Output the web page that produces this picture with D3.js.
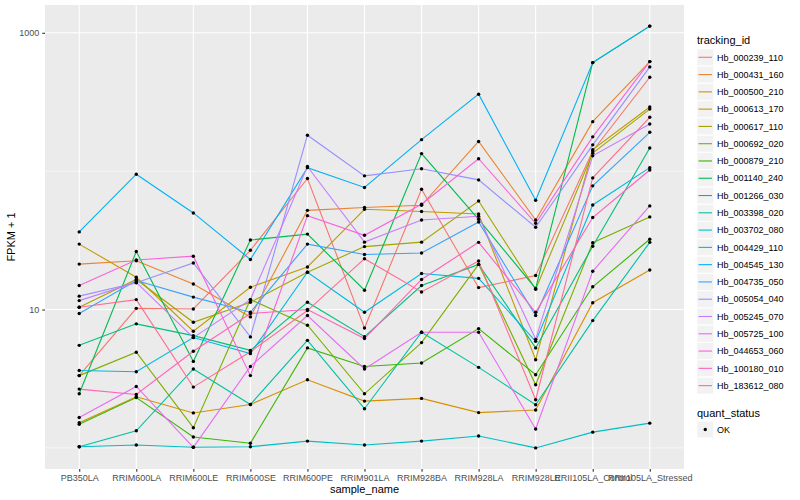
<!DOCTYPE html>
<html>
<head>
<meta charset="utf-8">
<script src="https://cdn.jsdelivr.net/npm/d3@7/dist/d3.min.js"></script>
<style>
  body { margin: 0; background: #fff; }
  text { font-family: "Liberation Sans", Arial, sans-serif; }
</style>
</head>
<body>
<svg id="chart" width="800" height="500"></svg>
<script>
/* global d3 */

var sampleNames = ['PB350LA', 'RRIM600LA', 'RRIM600LE', 'RRIM600SE', 'RRIM600PE', 'RRIM901LA',
    'RRIM928BA', 'RRIM928LA', 'RRIM928LE', 'RRII105LA_Control', 'RRII105LA_Stressed'];

var trackingIds = ['Hb_000239_110', 'Hb_000431_160', 'Hb_000500_210', 'Hb_000613_170', 'Hb_000617_110',
    'Hb_000692_020', 'Hb_000879_210', 'Hb_001140_240', 'Hb_001266_030', 'Hb_003398_020',
    'Hb_003702_080', 'Hb_004429_110', 'Hb_004545_130', 'Hb_004735_050', 'Hb_005054_040',
    'Hb_005245_070', 'Hb_005725_100', 'Hb_044653_060', 'Hb_100180_010', 'Hb_183612_080'];

// FPKM + 1, one array per tracking_id, in sampleNames order
var hb_000239_110 = [3.33, 10.2, 10.1, 26.8, 88.5, 7.36, 74.1, 14.4, 17.6, 140, 477];
var hb_000431_160 = [21.3, 22.5, 15.3, 8.85, 52.1, 54.6, 56.7, 164, 44.4, 228, 619];
var hb_000500_210 = [1.52, 2.34, 1.79, 2.06, 3.11, 2.18, 2.28, 1.80, 1.88, 11.2, 19.3];
var hb_000613_170 = [29.7, 17.1, 6.97, 14.5, 20.3, 53.0, 51.1, 49.0, 4.34, 143, 291];
var hb_000617_110 = [10.4, 16.5, 8.09, 11.3, 18.6, 28.5, 30.7, 60.9, 14.0, 135, 281];
var hb_000692_020 = [3.33, 4.91, 1.40, 11.8, 7.70, 2.46, 5.77, 21.2, 2.86, 30.4, 46.7];
var hb_000879_210 = [1.48, 2.31, 1.20, 1.08, 5.28, 3.88, 4.11, 7.28, 3.38, 14.6, 32.2];
var hb_001140_240 = [2.46, 26.3, 4.22, 31.8, 35.1, 13.8, 134, 44.9, 14.2, 609, 1118];
var hb_001266_030 = [5.51, 7.88, 6.48, 5.07, 11.3, 6.37, 14.9, 21.2, 5.28, 28.7, 147];
var hb_003398_020 = [1.02, 1.33, 3.72, 2.06, 5.99, 1.92, 6.85, 3.82, 2.05, 8.32, 30.6];
var hb_003702_080 = [1.02, 1.05, 1.01, 1.02, 1.12, 1.05, 1.12, 1.22, 1.00, 1.30, 1.51];
var hb_004429_110 = [3.63, 3.55, 6.27, 4.80, 18.6, 9.56, 18.2, 16.8, 5.89, 57.0, 106];
var hb_004545_130 = [36.4, 95.1, 49.9, 23.0, 106, 76.2, 169, 360, 61.6, 609, 1118];
var hb_004735_050 = [9.36, 16.2, 12.3, 9.56, 29.7, 25.0, 25.6, 42.9, 9.05, 78.3, 191];
var hb_005054_040 = [12.5, 15.6, 21.7, 6.34, 182, 92.5, 104, 86.5, 39.3, 155, 567];
var hb_005245_070 = [11.6, 15.7, 6.27, 11.8, 108, 30.7, 44.4, 47.2, 6.09, 129, 219];
var hb_005725_100 = [1.66, 2.78, 1.01, 3.88, 9.05, 3.72, 6.85, 6.85, 1.37, 18.9, 56.1];
var hb_044653_060 = [14.9, 22.8, 24.3, 3.33, 47.7, 34.4, 57.7, 123, 42.0, 177, 619];
var hb_100180_010 = [2.66, 2.43, 4.99, 9.36, 10.0, 6.17, 16.5, 30.6, 9.56, 46.2, 102];
var hb_183612_080 = [10.4, 11.8, 2.75, 4.96, 9.83, 23.3, 13.4, 22.4, 2.23, 89.4, 245];

var seriesValues = [hb_000239_110, hb_000431_160, hb_000500_210, hb_000613_170, hb_000617_110,
    hb_000692_020, hb_000879_210, hb_001140_240, hb_001266_030, hb_003398_020,
    hb_003702_080, hb_004429_110, hb_004545_130, hb_004735_050, hb_005054_040,
    hb_005245_070, hb_005725_100, hb_044653_060, hb_100180_010, hb_183612_080];

var yMajorTicks = [10, 1000];
var yMinorTicks = [1, 100];
var quantStatus = ['OK'];

// ggplot hue palette, 20 levels
var palette = ['#F8766D', '#EA8331', '#D89000', '#C09B00', '#A3A500', '#7CAE00', '#39B600', '#00BB4E',
    '#00BF7D', '#00C1A3', '#00BFC4', '#00BAE0', '#00B0F6', '#35A2FF', '#9590FF', '#C77CFF',
    '#E76BF3', '#FA62DB', '#FF62BC', '#FF6C91'];

var panel = {left: 45, top: 5, right: 684, bottom: 469};
var svg = d3.select('#chart');

var series = trackingIds.map(function (id, i) {
    return {id: id, color: palette[i], values: seriesValues[i].map(function (v, j) {
        return {sample: sampleNames[j], value: v};
    })};
});

var x = d3.scalePoint()
        .domain(sampleNames)
        .range([panel.left, panel.right])
        .padding(0.6);

// log scale with ggplot's 5% expansion (in log space)
var allVals = d3.merge(seriesValues);
var lo = Math.log10(d3.min(allVals)), hi = Math.log10(d3.max(allVals));
var pad = (hi - lo) * 0.05;
var y = d3.scaleLog()
        .domain([Math.pow(10, lo - pad), Math.pow(10, hi + pad)])
        .range([panel.bottom, panel.top]);

// panel
svg.append('rect')
        .attr('x', panel.left).attr('y', panel.top)
        .attr('width', panel.right - panel.left)
        .attr('height', panel.bottom - panel.top)
        .attr('fill', '#EBEBEB');

var grid = svg.append('g');
grid.selectAll('line.minor')
        .data(yMinorTicks)
        .enter().append('line')
        .attr('x1', panel.left).attr('x2', panel.right)
        .attr('y1', function (d) { return y(d); })
        .attr('y2', function (d) { return y(d); })
        .attr('stroke', '#fff').attr('stroke-width', 0.55);
grid.selectAll('line.major')
        .data(yMajorTicks)
        .enter().append('line')
        .attr('x1', panel.left).attr('x2', panel.right)
        .attr('y1', function (d) { return y(d); })
        .attr('y2', function (d) { return y(d); })
        .attr('stroke', '#fff').attr('stroke-width', 1.1);
grid.selectAll('line.vert')
        .data(sampleNames)
        .enter().append('line')
        .attr('x1', function (d) { return x(d); })
        .attr('x2', function (d) { return x(d); })
        .attr('y1', panel.top).attr('y2', panel.bottom)
        .attr('stroke', '#fff').attr('stroke-width', 1.1);

// lines
var line = d3.line()
        .x(function (d) { return x(d.sample); })
        .y(function (d) { return y(d.value); });

svg.append('g').selectAll('path')
        .data(series)
        .enter().append('path')
        .attr('d', function (d) { return line(d.values); })
        .attr('fill', 'none')
        .attr('stroke', function (d) { return d.color; })
        .attr('stroke-width', 1.1);

// points
svg.append('g').selectAll('g')
        .data(series)
        .enter().append('g')
        .selectAll('circle')
        .data(function (d) { return d.values; })
        .enter().append('circle')
        .attr('cx', function (d) { return x(d.sample); })
        .attr('cy', function (d) { return y(d.value); })
        .attr('r', 1.7)
        .attr('fill', '#000');

// axes
var xAxis = d3.axisBottom(x).tickSize(2.75).tickPadding(3);
var gx = svg.append('g')
        .attr('transform', 'translate(0,' + panel.bottom + ')')
        .call(xAxis);
var yAxis = d3.axisLeft(y).tickValues(yMajorTicks).tickFormat(d3.format('d')).tickSize(2.75).tickPadding(3);
var gy = svg.append('g')
        .attr('transform', 'translate(' + panel.left + ',0)')
        .call(yAxis);
[gx, gy].forEach(function (g) {
    g.select('.domain').remove();
    g.selectAll('.tick line').attr('stroke', '#333333').attr('stroke-width', 1.1);
    g.selectAll('.tick text')
            .attr('fill', '#4D4D4D')
            .style('font-size', '9px')
            .style('font-family', '"Liberation Sans", Arial, sans-serif');
});

svg.append('text')
        .attr('x', (panel.left + panel.right) / 2)
        .attr('y', 493)
        .attr('text-anchor', 'middle')
        .style('font-size', '11px')
        .text('sample_name');

svg.append('text')
        .attr('transform', 'translate(15,' + ((panel.top + panel.bottom) / 2) + ') rotate(-90)')
        .attr('text-anchor', 'middle')
        .style('font-size', '11px')
        .text('FPKM + 1');

// legend: tracking_id
var legend = svg.append('g').attr('transform', 'translate(697,0)');
legend.append('text')
        .attr('x', 0).attr('y', 44)
        .style('font-size', '11px')
        .text('tracking_id');

var keyStep = 17.28;
var keys = legend.selectAll('g.key')
        .data(series)
        .enter().append('g')
        .attr('transform', function (d, i) { return 'translate(0,' + (57.3 + i * keyStep) + ')'; });
keys.append('rect')
        .attr('x', 0).attr('y', -8.3)
        .attr('width', 16.6).attr('height', 16.6)
        .attr('fill', '#F2F2F2')
        .attr('stroke', '#fff').attr('stroke-width', 0.5);
keys.append('line')
        .attr('x1', 1.5).attr('x2', 15)
        .attr('y1', 0).attr('y2', 0)
        .attr('stroke', function (d) { return d.color; })
        .attr('stroke-width', 1.1);
keys.append('text')
        .attr('x', 20).attr('y', 3.2)
        .style('font-size', '9px')
        .attr('fill', '#000')
        .text(function (d) { return d.id; });

// legend: quant_status
legend.append('text')
        .attr('x', 0).attr('y', 417)
        .style('font-size', '11px')
        .text('quant_status');
var qKeys = legend.selectAll('g.qkey')
        .data(quantStatus)
        .enter().append('g')
        .attr('transform', function (d, i) { return 'translate(0,' + (429.5 + i * keyStep) + ')'; });
qKeys.append('rect')
        .attr('x', 0).attr('y', -8.3)
        .attr('width', 16.6).attr('height', 16.6)
        .attr('fill', '#F2F2F2')
        .attr('stroke', '#fff').attr('stroke-width', 0.5);
qKeys.append('circle')
        .attr('cx', 8.3).attr('cy', 0).attr('r', 1.7)
        .attr('fill', '#000');
qKeys.append('text')
        .attr('x', 20).attr('y', 3.2)
        .style('font-size', '9px')
        .text(function (d) { return d; });
</script>
</body>
</html>
